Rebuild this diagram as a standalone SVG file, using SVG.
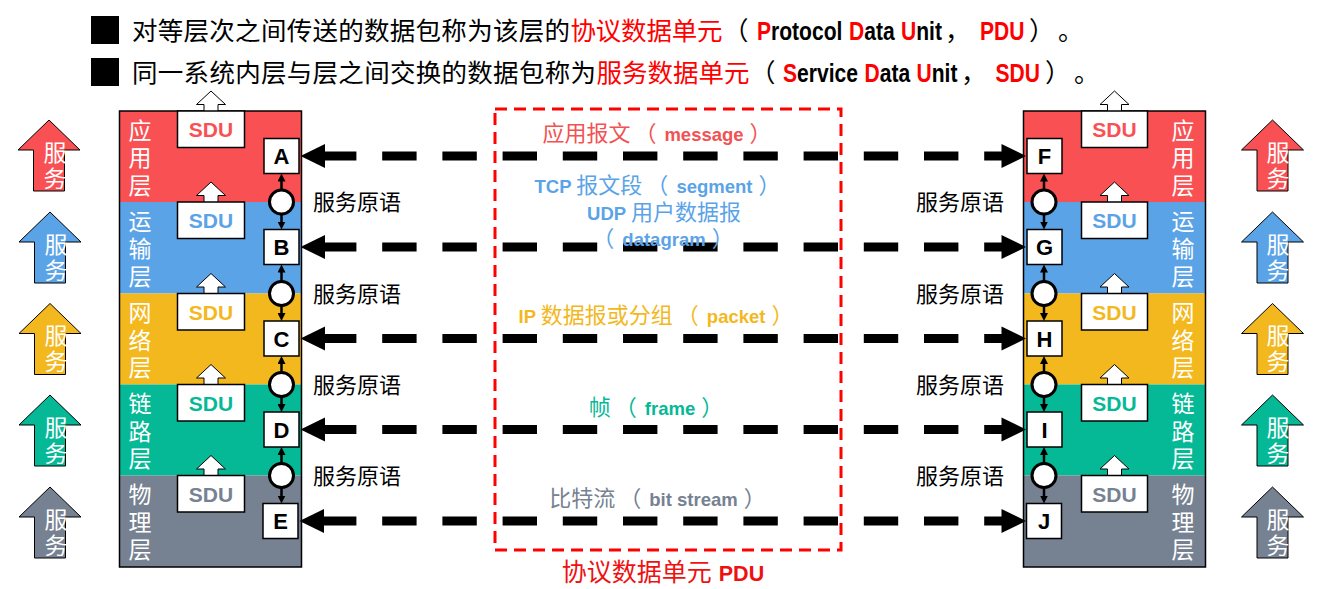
<svg xmlns="http://www.w3.org/2000/svg" width="1333" height="589" viewBox="0 0 1333 589">
<style>
.cjk{font-family:"Noto Sans CJK SC","Liberation Sans",sans-serif}
.mix{font-family:"Liberation Sans","Noto Sans CJK SC",sans-serif}
.lat{font-family:"Liberation Sans",sans-serif;font-weight:bold}
.hdr{font-size:25.5px}
.hl{font-size:26px}
.red{fill:#FF0000}
.blk{fill:#000}
.lbl{font-size:23px;fill:#fff;text-anchor:middle}
.sdu{font-size:21px;text-anchor:middle}
.ltr{font-size:22px;text-anchor:middle;fill:#000}
.box{fill:#fff;stroke:#000;stroke-width:1.5}
.uparr{fill:#fff;stroke:#000;stroke-width:1}
.svc{stroke:#000;stroke-width:1}
.prim{font-size:22px;fill:#000}
.dash{stroke:#000;stroke-width:9;stroke-dasharray:34.4 25.8;fill:none}
.head{fill:#000}
.vconn{stroke:#000;stroke-width:2.5;marker-start:url(#tri);marker-end:url(#tri)}
.circ{fill:#fff;stroke:#000;stroke-width:3}
.cz{font-size:22px}
.cl{font-size:18.5px;font-weight:bold}
</style>
<defs>
<marker id="tri" viewBox="0 0 8 8" refX="2" refY="4" markerWidth="8" markerHeight="8" markerUnits="userSpaceOnUse" orient="auto-start-reverse">
<path d="M0,0 L8,4 L0,8 z" fill="#000"/>
</marker>
</defs>
<rect width="1333" height="589" fill="#fff"/>

<!-- Header -->
<g id="header">
<rect x="91" y="16" width="28" height="28" fill="#000"/>
<rect x="91" y="58" width="28" height="28" fill="#000"/>
<text class="cjk hdr blk" x="132" y="40" textLength="438" lengthAdjust="spacing">对等层次之间传送的数据包称为该层的</text>
<text class="cjk hdr red" x="570.5" y="40" textLength="152" lengthAdjust="spacing">协议数据单元</text>
<text class="cjk hdr blk" x="723" y="40">（</text>
<text class="lat hl blk" transform="translate(757,40) scale(0.81,1)"><tspan class="red">P</tspan>rotocol</text>
<text class="lat hl blk" transform="translate(849,40) scale(0.81,1)"><tspan class="red">D</tspan>ata</text>
<text class="lat hl blk" transform="translate(901,40) scale(0.81,1)"><tspan class="red">U</tspan>nit</text>
<text class="cjk hdr blk" x="945" y="40">，</text>
<text class="lat hl red" transform="translate(980,40) scale(0.81,1)">PDU</text>
<text class="cjk hdr blk" x="1029" y="40">）</text>
<text class="cjk hdr blk" x="1058" y="40">。</text>

<text class="cjk hdr blk" x="132" y="82" textLength="464" lengthAdjust="spacing">同一系统内层与层之间交换的数据包称为</text>
<text class="cjk hdr red" x="596.5" y="82" textLength="153" lengthAdjust="spacing">服务数据单元</text>
<text class="cjk hdr blk" x="750" y="82">（</text>
<text class="lat hl blk" transform="translate(783,82) scale(0.81,1)"><tspan class="red">S</tspan>ervice</text>
<text class="lat hl blk" transform="translate(864.5,82) scale(0.81,1)"><tspan class="red">D</tspan>ata</text>
<text class="lat hl blk" transform="translate(916.5,82) scale(0.81,1)"><tspan class="red">U</tspan>nit</text>
<text class="cjk hdr blk" x="961" y="82">，</text>
<text class="lat hl red" transform="translate(995.5,82) scale(0.81,1)">SDU</text>
<text class="cjk hdr blk" x="1045" y="82">）</text>
<text class="cjk hdr blk" x="1074" y="82">。</text>
</g>

<!-- Left service arrows -->
<g id="svc-left-1"><polygon class="svc" fill="#F95153" points="49,120 80,150 64.5,150 64.5,191 33.5,191 33.5,150 18,150"/><text class="mix lbl" x="55" y="160.7">服</text><text class="mix lbl" x="55" y="186.7">务</text></g>
<g id="svc-left-2"><polygon class="svc" fill="#5BA3E7" points="50,212 81,242 65.5,242 65.5,283 34.5,283 34.5,242 19,242"/><text class="mix lbl" x="56" y="252.7">服</text><text class="mix lbl" x="56" y="278.7">务</text></g>
<g id="svc-left-3"><polygon class="svc" fill="#F3B81D" points="50,303.5 81,333.5 65.5,333.5 65.5,374.5 34.5,374.5 34.5,333.5 19,333.5"/><text class="mix lbl" x="56" y="344.2">服</text><text class="mix lbl" x="56" y="370.2">务</text></g>
<g id="svc-left-4"><polygon class="svc" fill="#05B996" points="50,395 81,425 65.5,425 65.5,466 34.5,466 34.5,425 19,425"/><text class="mix lbl" x="56" y="435.7">服</text><text class="mix lbl" x="56" y="461.7">务</text></g>
<g id="svc-left-5"><polygon class="svc" fill="#768191" points="50,487 81,517 65.5,517 65.5,558 34.5,558 34.5,517 19,517"/><text class="mix lbl" x="56" y="527.7">服</text><text class="mix lbl" x="56" y="553.7">务</text></g>

<!-- Right service arrows -->
<g id="svc-right-1"><polygon class="svc" fill="#F95153" points="1272.5,120 1303.5,150 1288,150 1288,191 1257,191 1257,150 1241.5,150"/><text class="mix lbl" x="1278" y="160.7">服</text><text class="mix lbl" x="1278" y="186.7">务</text></g>
<g id="svc-right-2"><polygon class="svc" fill="#5BA3E7" points="1272.5,212 1303.5,242 1288,242 1288,283 1257,283 1257,242 1241.5,242"/><text class="mix lbl" x="1278" y="252.7">服</text><text class="mix lbl" x="1278" y="278.7">务</text></g>
<g id="svc-right-3"><polygon class="svc" fill="#F3B81D" points="1272.5,303.5 1303.5,333.5 1288,333.5 1288,374.5 1257,374.5 1257,333.5 1241.5,333.5"/><text class="mix lbl" x="1278" y="344.2">服</text><text class="mix lbl" x="1278" y="370.2">务</text></g>
<g id="svc-right-4"><polygon class="svc" fill="#05B996" points="1272.5,395 1303.5,425 1288,425 1288,466 1257,466 1257,425 1241.5,425"/><text class="mix lbl" x="1278" y="435.7">服</text><text class="mix lbl" x="1278" y="461.7">务</text></g>
<g id="svc-right-5"><polygon class="svc" fill="#768191" points="1272.5,487 1303.5,517 1288,517 1288,558 1257,558 1257,517 1241.5,517"/><text class="mix lbl" x="1278" y="527.7">服</text><text class="mix lbl" x="1278" y="553.7">务</text></g>

<!-- Left stack layers -->
<g id="left-app">
<rect x="119.5" y="111" width="182" height="91" fill="#F95153"/>
<text class="mix lbl" x="140" y="138.7">应</text><text class="mix lbl" x="140" y="166.2">用</text><text class="mix lbl" x="140" y="193.7">层</text>
</g>
<g id="left-transport">
<rect x="119.5" y="202" width="182" height="91.5" fill="#5BA3E7"/>
<text class="mix lbl" x="140" y="229.7">运</text><text class="mix lbl" x="140" y="257.2">输</text><text class="mix lbl" x="140" y="284.7">层</text>
</g>
<g id="left-network">
<rect x="119.5" y="293.5" width="182" height="91" fill="#F3B81D"/>
<text class="mix lbl" x="140" y="321.2">网</text><text class="mix lbl" x="140" y="348.7">络</text><text class="mix lbl" x="140" y="376.2">层</text>
</g>
<g id="left-link">
<rect x="119.5" y="384.5" width="182" height="91" fill="#05B996"/>
<text class="mix lbl" x="140" y="412.2">链</text><text class="mix lbl" x="140" y="439.7">路</text><text class="mix lbl" x="140" y="467.2">层</text>
</g>
<g id="left-physical">
<rect x="119.5" y="475.5" width="182" height="91.5" fill="#768191"/>
<text class="mix lbl" x="140" y="503.2">物</text><text class="mix lbl" x="140" y="530.7">理</text><text class="mix lbl" x="140" y="558.2">层</text>
</g>
<rect x="119.5" y="111" width="182" height="456" fill="none" stroke="#000" stroke-width="1.5"/>

<!-- Right stack layers -->
<g id="right-app">
<rect x="1023.5" y="111" width="182" height="91" fill="#F95153"/>
<text class="mix lbl" x="1183" y="138.7">应</text><text class="mix lbl" x="1183" y="166.2">用</text><text class="mix lbl" x="1183" y="193.7">层</text>
</g>
<g id="right-transport">
<rect x="1023.5" y="202" width="182" height="91.5" fill="#5BA3E7"/>
<text class="mix lbl" x="1183" y="229.7">运</text><text class="mix lbl" x="1183" y="257.2">输</text><text class="mix lbl" x="1183" y="284.7">层</text>
</g>
<g id="right-network">
<rect x="1023.5" y="293.5" width="182" height="91" fill="#F3B81D"/>
<text class="mix lbl" x="1183" y="321.2">网</text><text class="mix lbl" x="1183" y="348.7">络</text><text class="mix lbl" x="1183" y="376.2">层</text>
</g>
<g id="right-link">
<rect x="1023.5" y="384.5" width="182" height="91" fill="#05B996"/>
<text class="mix lbl" x="1183" y="412.2">链</text><text class="mix lbl" x="1183" y="439.7">路</text><text class="mix lbl" x="1183" y="467.2">层</text>
</g>
<g id="right-physical">
<rect x="1023.5" y="475.5" width="182" height="91.5" fill="#768191"/>
<text class="mix lbl" x="1183" y="503.2">物</text><text class="mix lbl" x="1183" y="530.7">理</text><text class="mix lbl" x="1183" y="558.2">层</text>
</g>
<rect x="1023.5" y="111" width="182" height="456" fill="none" stroke="#000" stroke-width="1.5"/>

<!-- SDU boxes left -->
<g id="sdu-left-1"><polygon class="uparr" points="211,91 225.5,104.5 218,104.5 218,112 204,112 204,104.5 196.5,104.5"/><rect class="box" x="177.5" y="111" width="67" height="36.5"/><text class="lat sdu" x="211" y="137" fill="#F95153">SDU</text></g>
<g id="sdu-left-2"><polygon class="uparr" points="211,182 225.5,195.5 218,195.5 218,203 204,203 204,195.5 196.5,195.5"/><rect class="box" x="177.5" y="202" width="67" height="36.5"/><text class="lat sdu" x="211" y="228" fill="#5BA3E7">SDU</text></g>
<g id="sdu-left-3"><polygon class="uparr" points="211,273.5 225.5,287 218,287 218,294.5 204,294.5 204,287 196.5,287"/><rect class="box" x="177.5" y="293.5" width="67" height="36.5"/><text class="lat sdu" x="211" y="319.5" fill="#F3B81D">SDU</text></g>
<g id="sdu-left-4"><polygon class="uparr" points="211,364.5 225.5,378 218,378 218,385.5 204,385.5 204,378 196.5,378"/><rect class="box" x="177.5" y="384.5" width="67" height="36.5"/><text class="lat sdu" x="211" y="410.5" fill="#05B996">SDU</text></g>
<g id="sdu-left-5"><polygon class="uparr" points="211,455.5 225.5,469 218,469 218,476.5 204,476.5 204,469 196.5,469"/><rect class="box" x="177.5" y="475.5" width="67" height="36.5"/><text class="lat sdu" x="211" y="501.5" fill="#768191">SDU</text></g>

<!-- SDU boxes right -->
<g id="sdu-right-1"><polygon class="uparr" points="1114.5,91 1129,104.5 1121.5,104.5 1121.5,112 1107.5,112 1107.5,104.5 1100,104.5"/><rect class="box" x="1081.5" y="111" width="66" height="36.5"/><text class="lat sdu" x="1114.5" y="137" fill="#F95153">SDU</text></g>
<g id="sdu-right-2"><polygon class="uparr" points="1114.5,182 1129,195.5 1121.5,195.5 1121.5,203 1107.5,203 1107.5,195.5 1100,195.5"/><rect class="box" x="1081.5" y="202" width="66" height="36.5"/><text class="lat sdu" x="1114.5" y="228" fill="#5BA3E7">SDU</text></g>
<g id="sdu-right-3"><polygon class="uparr" points="1114.5,273.5 1129,287 1121.5,287 1121.5,294.5 1107.5,294.5 1107.5,287 1100,287"/><rect class="box" x="1081.5" y="293.5" width="66" height="36.5"/><text class="lat sdu" x="1114.5" y="319.5" fill="#F3B81D">SDU</text></g>
<g id="sdu-right-4"><polygon class="uparr" points="1114.5,364.5 1129,378 1121.5,378 1121.5,385.5 1107.5,385.5 1107.5,378 1100,378"/><rect class="box" x="1081.5" y="384.5" width="66" height="36.5"/><text class="lat sdu" x="1114.5" y="410.5" fill="#05B996">SDU</text></g>
<g id="sdu-right-5"><polygon class="uparr" points="1114.5,455.5 1129,469 1121.5,469 1121.5,476.5 1107.5,476.5 1107.5,469 1100,469"/><rect class="box" x="1081.5" y="475.5" width="66" height="36.5"/><text class="lat sdu" x="1114.5" y="501.5" fill="#768191">SDU</text></g>

<!-- PDU region -->
<g id="pdu-region">
<rect x="495" y="109" width="346" height="441" fill="none" stroke="#F00" stroke-width="3" stroke-dasharray="12 7"/>
<text class="mix" x="663" y="581" text-anchor="middle" fill="#EE1111"><tspan font-size="25">协议数据单元 </tspan><tspan font-size="21.5" font-weight="bold">PDU</tspan></text>
</g>

<!-- Connectors -->
<g id="connectors">
<g id="peer-links">
<line class="dash" x1="322" y1="156" x2="1003" y2="156"/>
<polygon class="head" points="300.5,156 325,144 325,168"/>
<polygon class="head" points="1026,156 1001.5,144 1001.5,168"/>
<line class="dash" x1="322" y1="247" x2="1003" y2="247"/>
<polygon class="head" points="300.5,247 325,235 325,259"/>
<polygon class="head" points="1026,247 1001.5,235 1001.5,259"/>
<line class="dash" x1="322" y1="338.5" x2="1003" y2="338.5"/>
<polygon class="head" points="300.5,338.5 325,326.5 325,350.5"/>
<polygon class="head" points="1026,338.5 1001.5,326.5 1001.5,350.5"/>
<line class="dash" x1="322" y1="429.5" x2="1003" y2="429.5"/>
<polygon class="head" points="300.5,429.5 325,417.5 325,441.5"/>
<polygon class="head" points="1026,429.5 1001.5,417.5 1001.5,441.5"/>
<line class="dash" x1="322" y1="521" x2="1003" y2="521"/>
<polygon class="head" points="299.5,521 324,509 324,533"/>
<polygon class="head" points="1026,521 1001.5,509 1001.5,533"/>
</g>
<g id="vertical-left">
<line class="vconn" x1="281.5" y1="179.5" x2="281.5" y2="223.5"/>
<circle class="circ" cx="281.5" cy="202" r="12"/>
<line class="vconn" x1="281.5" y1="270.5" x2="281.5" y2="315"/>
<circle class="circ" cx="281.5" cy="293.5" r="12"/>
<line class="vconn" x1="281.5" y1="362" x2="281.5" y2="406"/>
<circle class="circ" cx="281.5" cy="384.5" r="12"/>
<line class="vconn" x1="281.5" y1="453" x2="281.5" y2="497.5"/>
<circle class="circ" cx="281.5" cy="475.5" r="12"/>
</g>
<g id="vertical-right">
<line class="vconn" x1="1044" y1="179.5" x2="1044" y2="223.5"/>
<circle class="circ" cx="1044" cy="202" r="12"/>
<line class="vconn" x1="1044" y1="270.5" x2="1044" y2="315"/>
<circle class="circ" cx="1044" cy="293.5" r="12"/>
<line class="vconn" x1="1044" y1="362" x2="1044" y2="406"/>
<circle class="circ" cx="1044" cy="384.5" r="12"/>
<line class="vconn" x1="1044" y1="453" x2="1044" y2="497.5"/>
<circle class="circ" cx="1044" cy="475.5" r="12"/>
</g>
<g id="primitive-labels">
<text class="cjk prim" x="313" y="210.4">服务原语</text>
<text class="cjk prim" x="313" y="301.9">服务原语</text>
<text class="cjk prim" x="313" y="392.9">服务原语</text>
<text class="cjk prim" x="313" y="483.9">服务原语</text>
<text class="cjk prim" x="916" y="210.4">服务原语</text>
<text class="cjk prim" x="916" y="301.9">服务原语</text>
<text class="cjk prim" x="916" y="392.9">服务原语</text>
<text class="cjk prim" x="916" y="483.9">服务原语</text>
</g>
<g id="pdu-labels">
<text class="mix" x="657" y="141" text-anchor="middle" fill="#F25252"><tspan class="cz">应用报文</tspan><tspan class="cz" dx="4">（</tspan><tspan class="cl" dx="8">message</tspan><tspan class="cz" dx="6">）</tspan></text>
<text class="mix" x="657.5" y="193" text-anchor="middle" fill="#5BA3E7"><tspan class="cl">TCP </tspan><tspan class="cz">报文段</tspan><tspan class="cz" dx="4">（</tspan><tspan class="cl" dx="8">segment</tspan><tspan class="cz" dx="6">）</tspan></text>
<text class="mix" x="664" y="219.5" text-anchor="middle" fill="#5BA3E7"><tspan class="cl">UDP </tspan><tspan class="cz">用户数据报</tspan></text>
<text class="mix" x="663" y="246" text-anchor="middle" fill="#5BA3E7"><tspan class="cz">（</tspan><tspan class="cl" dx="8">datagram</tspan><tspan class="cz" dx="6">）</tspan></text>
<text class="mix" x="656" y="323" text-anchor="middle" fill="#F3B81D"><tspan class="cl">IP </tspan><tspan class="cz">数据报或分组</tspan><tspan class="cz" dx="4">（</tspan><tspan class="cl" dx="8">packet</tspan><tspan class="cz" dx="6">）</tspan></text>
<text class="mix" x="656" y="414.5" text-anchor="middle" fill="#05B996"><tspan class="cz">帧</tspan><tspan class="cz" dx="4">（</tspan><tspan class="cl" dx="8">frame</tspan><tspan class="cz" dx="6">）</tspan></text>
<text class="mix" x="657.5" y="506" text-anchor="middle" fill="#768191"><tspan class="cz">比特流</tspan><tspan class="cz" dx="4">（</tspan><tspan class="cl" dx="8">bit stream</tspan><tspan class="cz" dx="6">）</tspan></text>
</g>
</g>

<!-- Letter boxes (SAPs) -->
<g id="node-A"><rect class="box" x="264" y="138.5" width="35" height="35"/><text class="lat ltr" x="281.5" y="164">A</text></g>
<g id="node-B"><rect class="box" x="264" y="229.5" width="35" height="35"/><text class="lat ltr" x="281.5" y="255">B</text></g>
<g id="node-C"><rect class="box" x="264" y="321" width="35" height="35"/><text class="lat ltr" x="281.5" y="346.5">C</text></g>
<g id="node-D"><rect class="box" x="264" y="412" width="35" height="35"/><text class="lat ltr" x="281.5" y="437.5">D</text></g>
<g id="node-E"><rect class="box" x="263" y="503.5" width="35" height="35"/><text class="lat ltr" x="280.5" y="529">E</text></g>
<g id="node-F"><rect class="box" x="1027" y="138.5" width="35" height="35"/><text class="lat ltr" x="1044.5" y="164">F</text></g>
<g id="node-G"><rect class="box" x="1027" y="229.5" width="35" height="35"/><text class="lat ltr" x="1044.5" y="255">G</text></g>
<g id="node-H"><rect class="box" x="1027" y="321" width="35" height="35"/><text class="lat ltr" x="1044.5" y="346.5">H</text></g>
<g id="node-I"><rect class="box" x="1027" y="412" width="35" height="35"/><text class="lat ltr" x="1044.5" y="437.5">I</text></g>
<g id="node-J"><rect class="box" x="1026.5" y="503.5" width="35" height="35"/><text class="lat ltr" x="1044" y="529">J</text></g>
</svg>
